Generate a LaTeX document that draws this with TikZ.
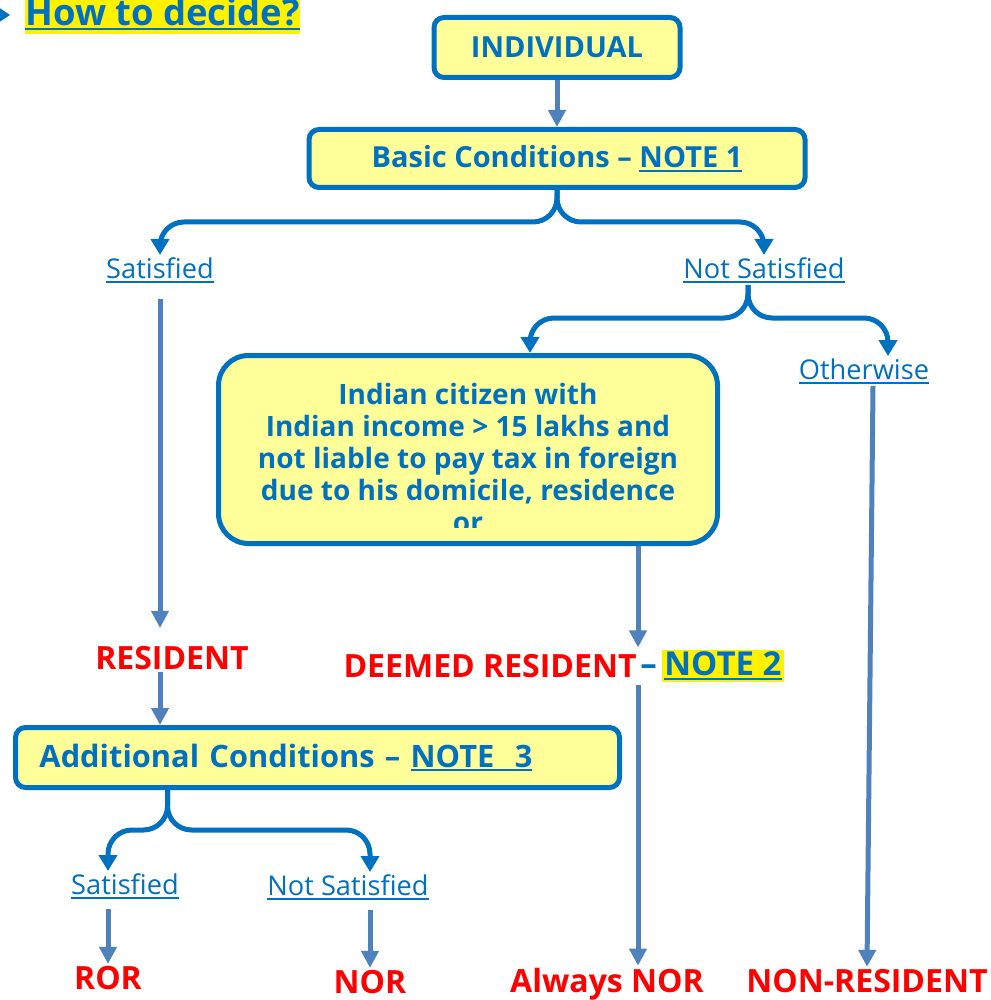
\documentclass[tikz,border=0pt]{standalone}
\usepackage{fontspec}
\setmainfont{Open Sans}
\usetikzlibrary{arrows.meta}
\definecolor{dblue}{HTML}{0070C0}
\definecolor{sblue}{HTML}{4F81BD}
\definecolor{pyellow}{HTML}{FFFF99}
\newcommand{\uln}[1]{\setbox0\hbox{#1}\rlap{\rule[-2.2pt]{\wd0}{1pt}}\box0}

\begin{document}
\begin{tikzpicture}[x=0.5pt, y=-0.5pt,
    box/.style = {draw=dblue, line width=2.5pt, fill=pyellow, rounded corners=5pt, text=dblue, font=\bfseries\fontsize{14.5}{16}\selectfont},
    choice/.style = {text=dblue, font=\fontsize{13.6}{16}\selectfont, inner sep=1pt},
    result/.style = {text=red, font=\bfseries\fontsize{16}{18}\selectfont, inner sep=1pt},
    brace/.style = {draw=dblue, line width=2.5pt, rounded corners=12pt, -{Triangle[width=9pt,length=8pt]}},
    flow/.style = {draw=sblue, line width=2.5pt, -{Triangle[width=8.5pt,length=8.5pt]}}]
    \useasboundingbox (0,0) rectangle (990,1000);

    % title
    \fill[dblue] (-8,3) -- (10,15) -- (-8,27) -- cycle;
    \node[anchor=base west, inner xsep=0pt, inner ysep=2pt, fill=yellow, text=dblue, font=\bfseries\fontsize{18.2}{20}\selectfont] (title) at (25,26) {\uln{How to decide?}};

    % top part
    \node[box, minimum width=123pt, minimum height=30pt] (indiv) at (557,47.5) {INDIVIDUAL};
    \node[box, minimum width=248pt, minimum height=29pt] (basic) at (557,158.5) {Basic Conditions -- \uln{NOTE 1}};
    \node[choice] (sat) at (160,270) {\uln{Satisfied}};
    \node[choice] (notsat) at (764,270) {\uln{Not Satisfied}};
    \node[choice] (other) at (864,371) {\uln{Otherwise}};
    \node[box, rounded corners=15pt, minimum width=249.5pt, minimum height=94pt] (citizen) at (468,449.5) {};
    \begin{scope}
        \clip (216,356) rectangle (720,527);
        \node[text=dblue, align=center, font=\bfseries\fontsize{14}{16}\selectfont] (citizentext) at (468,458) {Indian citizen with\\Indian income > 15 lakhs and\\not liable to pay tax in foreign\\due to his domicile, residence\\or};
    \end{scope}

    % results
    \node[result] (resident) at (172,658) {RESIDENT};
    \node[result, anchor=east, inner sep=0pt] (deemed) at (637,666) {DEEMED RESIDENT};
    \node[anchor=west, inner sep=1pt, text=dblue, font=\bfseries\fontsize{16.5}{18}\selectfont] (note2) at (638,666) {--\,\setlength{\fboxsep}{1pt}\colorbox{yellow}{\uln{NOTE 2}}};
    \node[result] (always) at (607,984) {Always NOR};
    \node[result] (nonres) at (867,981) {NON-RESIDENT};

    % additional conditions
    \node[box, minimum width=302pt, minimum height=30pt, text width=278pt, align=left, font=\bfseries\fontsize{15.4}{18}\selectfont] (addl) at (317.5,757.5) {Additional Conditions -- \uln{NOTE\ \ 3}};
    \node[choice] (sat2) at (125,886) {\uln{Satisfied}};
    \node[choice] (notsat2) at (348,887) {\uln{Not Satisfied}};
    \node[result] (ror) at (108,978) {ROR};
    \node[result] (nor) at (370,982) {NOR};

    \draw[flow] (indiv) -- (basic);
    \draw[brace] (basic.south) -- ++(0,32) -| (sat.north);
    \draw[brace] (basic.south) -- ++(0,32) -| (notsat.north);
    \draw[brace] ([xshift=-8pt]notsat.south) -- ++(0,33) -| ([xshift=31pt]citizen.north);
    \draw[brace] ([xshift=-8pt]notsat.south) -- ++(0,33) -| ([xshift=12pt]other.north);
    \draw[flow, shorten <=7pt, shorten >=8pt] (sat.south) -- (sat.south |- resident.north);
    \draw[flow] (citizen.south -| note2.west) -- (note2.north west);
    \draw[flow] (note2.south west) -- (note2.west |- always.north);
    \draw[flow] ([xshift=4.5pt]other.south) -- (nonres.north);
    \draw[flow] (sat |- resident.south) -- (sat |- addl.north);
    \draw[brace] ([xshift=-75pt]addl.south) -- ++(0,40) -| (ror |- sat2.north);
    \draw[brace] ([xshift=-75pt]addl.south) -- ++(0,40) -| (nor |- notsat2.north);
    \draw[flow, shorten <=4pt] (ror |- sat2.south) -- (ror.north);
    \draw[flow, shorten <=4pt] (nor |- notsat2.south) -- (nor.north);
\end{tikzpicture}
\end{document}
